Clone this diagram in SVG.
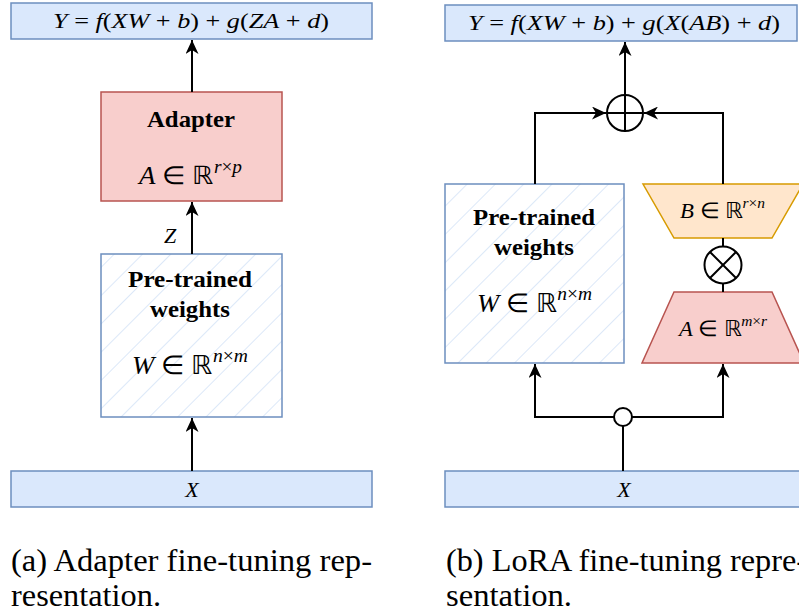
<svg xmlns="http://www.w3.org/2000/svg" width="799" height="613" viewBox="0 0 799 613">
  <style>
    .blue { fill: #dae8fc; stroke: #6c8ebf; stroke-width: 1.5; }
    .red { fill: #f8cecc; stroke: #b85450; stroke-width: 1.5; }
    .orange { fill: #ffe6cc; stroke: #d79b00; stroke-width: 1.5; }
    .frame { fill: none; stroke: #6c8ebf; stroke-width: 1.5; }
    .wire { fill: none; stroke: #000; stroke-width: 2; }
    .op { fill: #fff; stroke: #000; stroke-width: 2; }
    .m { font-family: 'Liberation Serif', serif; fill: #000; }
    .i { font-style: italic; }
    .b { font-family: 'Liberation Serif', serif; font-weight: bold; font-size: 23px; fill: #000; }
    .cap { font-family: 'Liberation Serif', serif; font-size: 31px; fill: #000; }
  </style>
  <defs>
    <marker id="arrow" markerUnits="userSpaceOnUse" markerWidth="14" markerHeight="13" refX="14" refY="6.5" orient="auto">
      <path d="M0,0 L14,6.5 L0,13 L4,6.5 Z" fill="#000"/>
    </marker>
    <pattern id="hatch" patternUnits="userSpaceOnUse" width="20" height="20" patternTransform="rotate(45)">
      <line x1="0" y1="0" x2="0" y2="20" stroke="#c4d8f4" stroke-width="1.2"/>
    </pattern>
  </defs>

  <!-- (a) adapter layout -->
  <g id="a-output">
    <rect class="blue" x="11" y="3" width="361" height="36"/>
    <text class="m" x="191" y="28" font-size="22" text-anchor="middle" textLength="276" lengthAdjust="spacingAndGlyphs"><tspan class="i">Y</tspan> = <tspan class="i">f</tspan>(<tspan class="i">XW</tspan> + <tspan class="i">b</tspan>) + <tspan class="i">g</tspan>(<tspan class="i">ZA</tspan> + <tspan class="i">d</tspan>)</text>
  </g>
  <g id="a-adapter">
    <rect class="red" x="101" y="92" width="181" height="109"/>
    <text class="b" x="191" y="127" text-anchor="middle" textLength="88" lengthAdjust="spacingAndGlyphs">Adapter</text>
    <text class="m" x="190.5" y="184" font-size="25" text-anchor="middle" textLength="103" lengthAdjust="spacingAndGlyphs"><tspan class="i">A</tspan> ∈ ℝ<tspan class="i" dy="-11" font-size="18">r</tspan><tspan font-size="18">×</tspan><tspan class="i" font-size="18">p</tspan></text>
  </g>
  <g id="a-weights">
    <rect x="101" y="254" width="181" height="163" fill="#fff"/>
    <rect x="101" y="254" width="181" height="163" fill="url(#hatch)"/>
    <rect class="frame" x="101" y="254" width="181" height="163"/>
    <text class="b" x="190" y="287" text-anchor="middle" textLength="124" lengthAdjust="spacingAndGlyphs">Pre-trained</text>
    <text class="b" x="190" y="317" text-anchor="middle" textLength="80" lengthAdjust="spacingAndGlyphs">weights</text>
    <text class="m" x="190" y="374" font-size="26" text-anchor="middle" textLength="116" lengthAdjust="spacingAndGlyphs"><tspan class="i">W</tspan> ∈ ℝ<tspan class="i" dy="-12" font-size="19">n</tspan><tspan font-size="19">×</tspan><tspan class="i" font-size="19">m</tspan></text>
  </g>
  <g id="a-input">
    <rect class="blue" x="11" y="471" width="361" height="36"/>
    <text class="m i" x="192" y="497" font-size="22" text-anchor="middle">X</text>
  </g>

  <!-- (b) LoRA layout -->
  <g id="b-output">
    <rect class="blue" x="445" y="5" width="352" height="36"/>
    <text class="m" x="624" y="30" font-size="22" text-anchor="middle" textLength="312" lengthAdjust="spacingAndGlyphs"><tspan class="i">Y</tspan> = <tspan class="i">f</tspan>(<tspan class="i">XW</tspan> + <tspan class="i">b</tspan>) + <tspan class="i">g</tspan>(<tspan class="i">X</tspan>(<tspan class="i">AB</tspan>) + <tspan class="i">d</tspan>)</text>
  </g>
  <g id="b-weights">
    <rect x="445" y="184" width="179" height="179" fill="#fff"/>
    <rect x="445" y="184" width="179" height="179" fill="url(#hatch)"/>
    <rect class="frame" x="445" y="184" width="179" height="179"/>
    <text class="b" x="534" y="225" text-anchor="middle" textLength="122" lengthAdjust="spacingAndGlyphs">Pre-trained</text>
    <text class="b" x="534" y="255" text-anchor="middle" textLength="80" lengthAdjust="spacingAndGlyphs">weights</text>
    <text class="m" x="534.5" y="312" font-size="26" text-anchor="middle" textLength="115" lengthAdjust="spacingAndGlyphs"><tspan class="i">W</tspan> ∈ ℝ<tspan class="i" dy="-12" font-size="19">n</tspan><tspan font-size="19">×</tspan><tspan class="i" font-size="19">m</tspan></text>
  </g>
  <g id="b-matrix-B">
    <polygon class="orange" points="643,184 803,184 772,238 674,238"/>
    <text class="m" x="722.5" y="218" font-size="22" text-anchor="middle" textLength="85" lengthAdjust="spacingAndGlyphs"><tspan class="i">B</tspan> ∈ ℝ<tspan class="i" dy="-10" font-size="15">r</tspan><tspan font-size="15">×</tspan><tspan class="i" font-size="15">n</tspan></text>
  </g>
  <g id="b-matrix-A">
    <polygon class="red" points="674,292 772,292 804,363 642,363"/>
    <text class="m" x="723" y="336" font-size="22" text-anchor="middle" textLength="88" lengthAdjust="spacingAndGlyphs"><tspan class="i">A</tspan> ∈ ℝ<tspan class="i" dy="-10" font-size="15">m</tspan><tspan font-size="15">×</tspan><tspan class="i" font-size="15">r</tspan></text>
  </g>
  <g id="b-sum">
    <circle class="op" cx="625" cy="113" r="18"/>
    <path class="wire" d="M607,113 H643 M625,95 V131"/>
  </g>
  <g id="b-product">
    <circle class="op" cx="723" cy="265" r="18.5"/>
    <path class="wire" d="M710,252 L736,278 M736,252 L710,278"/>
  </g>
  <g id="b-split">
    <circle class="op" cx="623" cy="417" r="9"/>
  </g>
  <g id="b-input">
    <rect class="blue" x="445" y="471" width="360" height="36"/>
    <text class="m i" x="624" y="497" font-size="22" text-anchor="middle">X</text>
  </g>

  <g id="connectors">
    <!-- (a) -->
    <path class="wire" d="M192,92 V40" marker-end="url(#arrow)"/>
    <path class="wire" d="M192,254 V202" stroke-width="2.5" marker-end="url(#arrow)"/>
    <path class="wire" d="M192,471 V418" stroke-width="2.5" marker-end="url(#arrow)"/>
    <text class="m i" x="164" y="243" font-size="22">Z</text>
    <!-- (b) -->
    <path class="wire" d="M625,95 V42" marker-end="url(#arrow)"/>
    <path class="wire" d="M535,184 V113 H606" marker-end="url(#arrow)"/>
    <path class="wire" d="M723,184 V113 H644" marker-end="url(#arrow)"/>
    <path class="wire" d="M723,238 V246.5 M723,283.5 V292"/>
    <path class="wire" d="M623,471 V426"/>
    <path class="wire" d="M614,417 H535 V364" marker-end="url(#arrow)"/>
    <path class="wire" d="M632,417 H723 V364" marker-end="url(#arrow)"/>
  </g>

  <!-- captions -->
  <text class="cap" x="11" y="571" textLength="361" lengthAdjust="spacingAndGlyphs">(a) Adapter fine-tuning rep-</text>
  <text class="cap" x="11" y="606" textLength="150" lengthAdjust="spacingAndGlyphs">resentation.</text>
  <text class="cap" x="446" y="571" textLength="361" lengthAdjust="spacingAndGlyphs">(b) LoRA fine-tuning repre-</text>
  <text class="cap" x="446" y="606" textLength="126" lengthAdjust="spacingAndGlyphs">sentation.</text>
</svg>
